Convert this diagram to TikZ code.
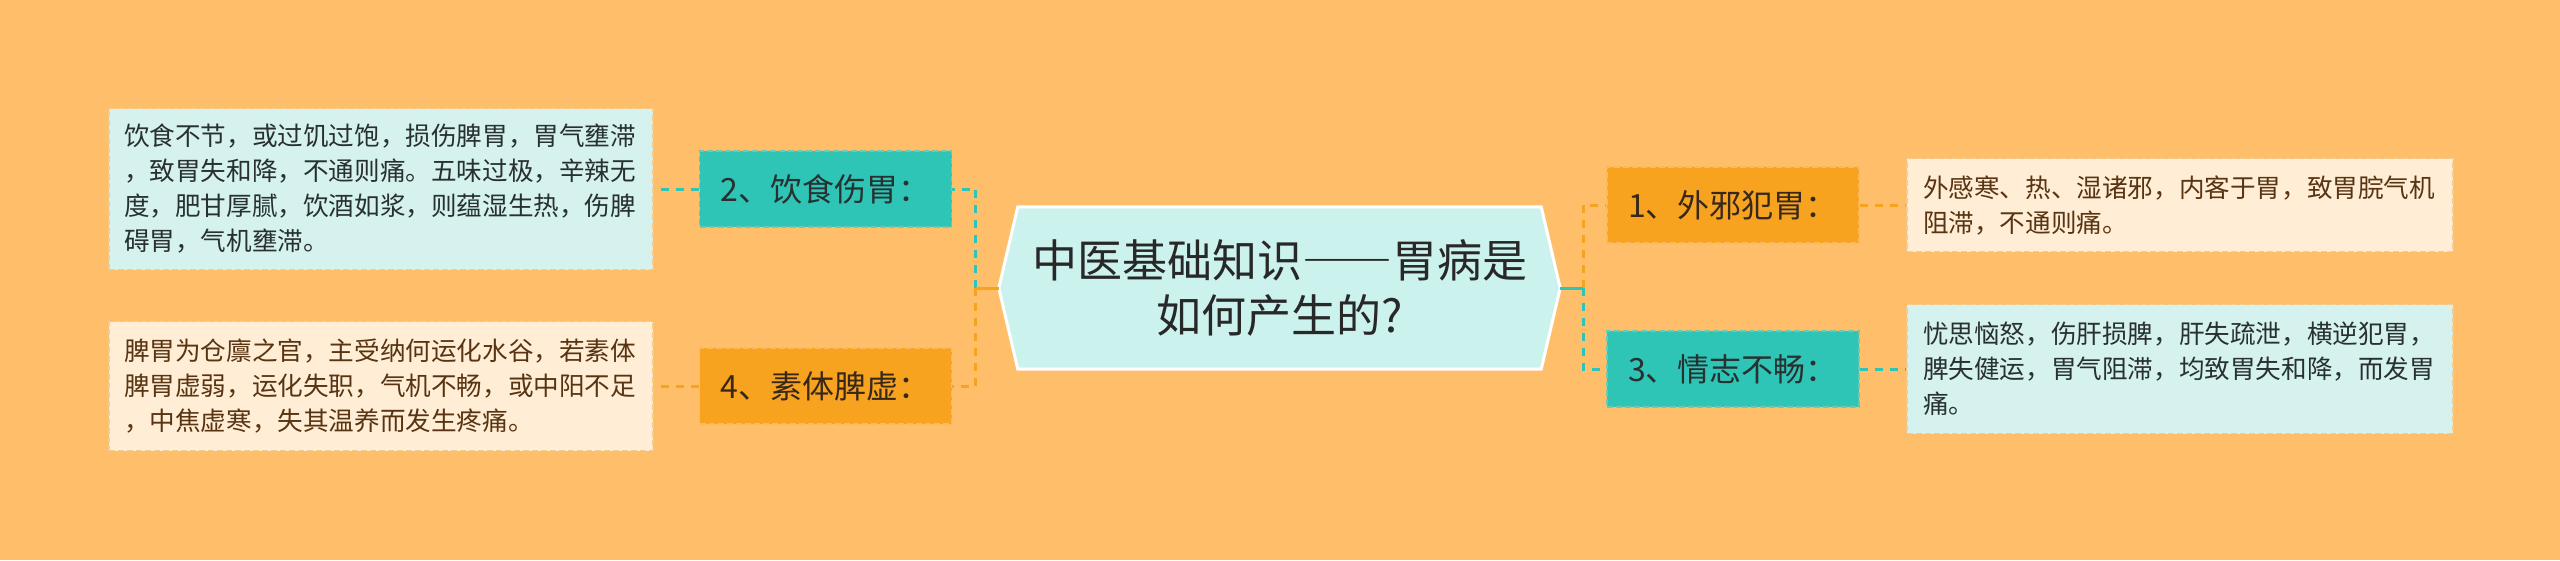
\documentclass[tikz,border=0pt]{standalone}
\usepackage{fontspec}
\setmainfont{Noto Sans CJK SC}
\usetikzlibrary{calc}
\definecolor{bg}{RGB}{255,190,106}
\definecolor{tealN}{RGB}{46,196,182}
\definecolor{orangeN}{RGB}{248,163,32}
\definecolor{cyanBox}{RGB}{213,242,238}
\definecolor{creamBox}{RGB}{255,238,213}
\definecolor{hexFill}{RGB}{204,242,238}
\definecolor{tealBorder}{RGB}{110,200,180}
\definecolor{orangeBorder}{RGB}{252,185,90}
\definecolor{boxBorder}{RGB}{242,205,145}
\definecolor{brownText}{RGB}{88,52,18}
\definecolor{darkText}{RGB}{40,48,48}
\tikzset{
  txtbox/.style={rectangle, draw=boxBorder, line width=1.5pt, dash pattern=on 6pt off 3pt,
    text width=514pt, align=left, inner xsep=15pt, inner ysep=0pt,
    font=\fontsize{25.6}{35}\selectfont},
  cyanbox/.style={txtbox, fill=cyanBox, text=darkText},
  creambox/.style={txtbox, fill=creamBox, text=brownText},
  label/.style={rectangle, line width=1.5pt, dash pattern=on 6pt off 3pt,
    minimum width=252pt, minimum height=76pt, inner sep=0pt,
    font=\fontsize{32}{40}\selectfont},
  teallabel/.style={label, fill=tealN, draw=tealBorder, text=darkText},
  orangelabel/.style={label, fill=orangeN, draw=orangeBorder, text={rgb,255:red,55;green,40;blue,25}},
  conn/.style={line width=3pt, dash pattern=on 8pt off 7pt},
  trunk/.style={line width=3pt}
}
\begin{document}
\begin{tikzpicture}[x=1pt,y=-1pt]
\fill[bg] (0,0) rectangle (2560,560);
\useasboundingbox (0,0) rectangle (2560,560);

% central topic
\node[minimum width=561pt, minimum height=162pt, inner sep=0pt]
  (hex) at (1279.5,288) {};
\fill[hexFill, draw=white, line width=3pt, line join=miter]
  (hex.west) -- ($(hex.north west)+(19,0)$) -- ($(hex.north east)+(-19,0)$)
  -- (hex.east) -- ($(hex.south east)+(-19,0)$) -- ($(hex.south west)+(19,0)$) -- cycle;
\node[align=center, font=\fontsize{45}{55}\selectfont, text={rgb,255:red,40;green,40;blue,40}]
  (hextext) at (hex.center) {中医基础知识{\addfontfeature{RawFeature=+fwid}——}胃病是\\如何产生的?};

% labels
\node[teallabel] (n2) at (825.5,189) {2、饮食伤胃：};
\node[orangelabel] (n4) at (825.5,386) {4、素体脾虚：};
\node[orangelabel] (n1) at (1733,205) {1、外邪犯胃：};
\node[teallabel] (n3) at (1733,369) {3、情志不畅：};

% text boxes
\node[cyanbox, minimum height=161pt] (b2) at (381,189)
  {饮食不节，或过饥过饱，损伤脾胃，胃气壅滞\\，致胃失和降，不通则痛。五味过极，辛辣无\\度，肥甘厚腻，饮酒如浆，则蕴湿生热，伤脾\\碍胃，气机壅滞。};
\node[creambox, minimum height=129pt] (b4) at (381,386)
  {脾胃为仓廪之官，主受纳何运化水谷，若素体\\脾胃虚弱，运化失职，气机不畅，或中阳不足\\，中焦虚寒，失其温养而发生疼痛。};
\node[creambox, minimum height=93pt, inner xsep=16pt] (b1) at (2180,205)
  {外感寒、热、湿诸邪，内客于胃，致胃脘气机\\阻滞，不通则痛。};
\node[cyanbox, minimum height=129pt, inner xsep=16pt] (b3) at (2180,369)
  {忧思恼怒，伤肝损脾，肝失疏泄，横逆犯胃，\\脾失健运，胃气阻滞，均致胃失和降，而发胃\\痛。};

% junctions
\coordinate (jl) at ($(hex.west)+(-23,0)$);
\coordinate (jr) at ($(hex.east)+(23,0)$);

% left branches
\draw[conn, tealN] (jl) |- (n2.east);
\draw[conn, orangeN] (jl) |- (n4.east);
\draw[trunk, orangeN] (hex.west) -- (jl);
% right branches
\draw[conn, orangeN] (jr) |- (n1.west);
\draw[conn, tealN] (jr) |- (n3.west);
\draw[trunk, tealN] (hex.east) -- (jr);

% label to text box
\draw[conn, tealN] (n2.west) -- (b2.east);
\draw[conn, orangeN] (n4.west) -- (b4.east);
\draw[conn, orangeN] (n1.east) -- (b1.west);
\draw[conn, tealN] (n3.east) -- (b3.west);
\end{tikzpicture}
\end{document}
